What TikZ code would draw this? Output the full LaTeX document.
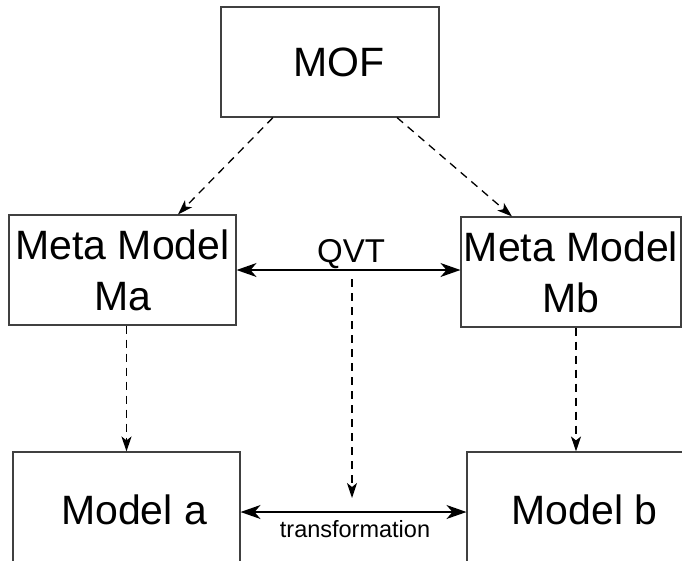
\documentclass[tikz,border=0pt]{standalone}
\usepackage{fontspec}
\setmainfont{Liberation Sans}
\usetikzlibrary{arrows.meta,calc}

\tikzset{
  box/.style={draw=black!75, line width=1.1pt, rectangle, inner sep=0pt,
              align=center, font=\fontsize{41}{51}\selectfont},
  dasharrow/.style={draw=black, line width=1.3pt, dash pattern=on 8pt off 6pt,
              -{Stealth[length=15pt,width=10pt,inset=4pt]}},
  bothways/.style={draw=black, line width=1.4pt,
              {Stealth[length=20pt,width=14pt,inset=6pt]}-{Stealth[length=20pt,width=14pt,inset=6pt]}},
  biglabel/.style={inner sep=0pt, font=\fontsize{33}{40}\selectfont},
  smalllabel/.style={inner sep=0pt, font=\fontsize{23.5}{28}\selectfont}
}

\begin{document}
\begin{tikzpicture}[x=1pt, y=-1pt]
  \useasboundingbox (0,0) rectangle (682,560);

  % boxes
  \node[box, minimum width=218pt, minimum height=110pt] (mof) at (330,62) {\hspace*{18pt}MOF};
  \node[box, minimum width=227pt, minimum height=110pt] (ma) at (122.5,270) {Meta Model\\Ma};
  \node[box, minimum width=220pt, minimum height=110pt] (mb) at (571,272) {Meta Model\\Mb};
  \node[box, minimum width=227pt, minimum height=115pt] (modela) at (126.5,509.5) {\hspace*{15pt}Model a};
  \node[box, minimum width=235pt, minimum height=115pt] (modelb) at (584.5,509.5) {Model b};

  % instance-of relations from MOF
  \draw[dasharrow] ([xshift=-57pt]mof.south) -- ([xshift=55.5pt]ma.north);
  \draw[dasharrow] ([xshift=67pt]mof.south) -- ([xshift=-59pt]mb.north);

  % meta models to models
  \draw[dasharrow] (ma.south -| modela.north) -- (modela.north);
  \draw[dasharrow] ([xshift=5pt]mb.south) -- ([xshift=5pt]mb.south |- modelb.north);

  % QVT mapping between meta models
  \draw[bothways] (ma.east) -- (ma.east -| mb.west);
  \node[biglabel, anchor=base] (qvt) at (351,262) {QVT};

  % transformation between models
  \draw[bothways] ([yshift=-2.5pt]modela.east) -- ([yshift=-2.5pt]modela.east -| modelb.west);
  \node[smalllabel, anchor=base] (trans) at (355,537) {transformation};

  % QVT drives the transformation
  \coordinate (qvtfoot) at (352,279);
  \coordinate (transtop) at (352,498);
  \draw[dasharrow] (qvtfoot) -- (transtop);
\end{tikzpicture}
\end{document}
